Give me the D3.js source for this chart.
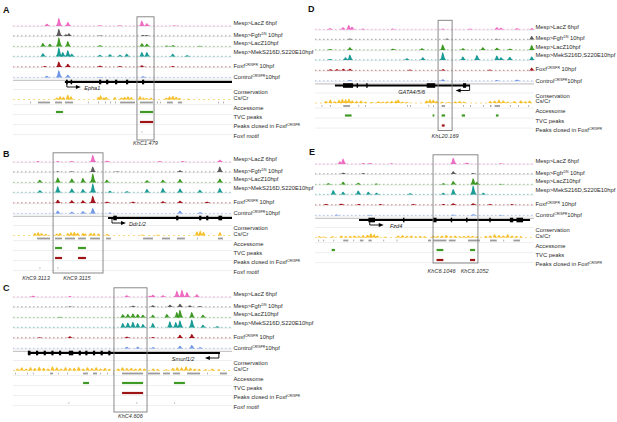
<!DOCTYPE html>
<html>
<head>
<meta charset="utf-8">
<script src="https://cdn.jsdelivr.net/npm/d3@7"></script>
<style>
  body { margin: 0; background: #fff; }
  svg { display: block; font-family: "Liberation Sans", Arial, sans-serif; }
</style>
</head>
<body>
<svg id="chart" width="617" height="422"></svg>
<script>
// ── Track names (segments; "sup" = superscript) ─────────────
const trackNames = [
  [["Mesp>LacZ 6hpf"]],
  [["Mesp>Fgfr"], ["DN", "sup"], [" 10hpf"]],
  [["Mesp>LacZ10hpf"]],
  [["Mesp>MekS216D,S220E10hpf"]],
  [["Foxf"], ["CRISPR", "sup"], [" 10hpf"]],
  [["Control"], ["CRISPR", "sup"], ["10hpf"]]
];
const trackColors = ["#ee6cc1", "#5b5b5b", "#3f9a25", "#1b9b95", "#a3141b", "#6f95e6"];

// Positions are in locus units 0..100, heights are relative (0..1)

// ── Panel A : Epha1 ─────────────────────────────────────────
const signalA = [
  [[15.5,.25],[21,.9],[25.1,.45],[39.7,.08],[48.9,.08],[58.9,.6],[61.2,.3],[74,.06]],
  [[21,.8],[24.2,.2],[25.6,.3],[39.7,.05],[59.4,.12],[61.2,.1]],
  [[13.7,.4],[16.9,.3],[21,1],[25.1,.6],[39.7,.15],[58.9,.35],[61.2,.3],[70.3,.1],[73,.15],[85.4,.08]],
  [[13.7,.35],[21,1],[22.8,.5],[25.1,.7],[26.9,.3],[39.7,.2],[44.3,.25],[48.9,.2],[52,.3],[58.9,.5],[61.2,.5],[73,.3],[79.5,.15]],
  [[14.6,.1],[21,.6],[25.1,.35],[39.7,.15],[48.9,.1],[58.9,.2],[73,.1]],
  [[15.5,.2],[21,.8],[25.1,.3],[39.7,.05],[59.4,.15]]
];
const consA = [[20,.3],[21.5,.5],[23,.4],[25,.7],[26.5,.45],[39,.4],[40,.6],[41.5,.3],[42.5,.4],[46.5,.35],
  [49.5,.3],[51,.4],[52.5,.45],[54,.35],[58,.5],[59.5,.3],[61,.25],[63,.3],[70,.3],[71.5,.45],[73,.55],[74.5,.4],[76,.25],[80,.12]];
const accA = [[7.8,7.8],[11.4,16.9],[19.2,22.4],[23.7,27.4],[34.2,34.2],[38.8,38.8],[42,42],[44.3,44.3],[46.6,46.6],
  [48.9,55.7],[58,63.9],[65.8,65.8],[67.1,67.1],[70.3,73],[75.3,77.2],[93.6,93.6],[95.9,95.9]];
const tvcA = [[19.6,22.8],[58,64]];
const closedA = [[58,64]];
const motifA = [58.9];
const geneA = ["Epha1", 23.7, 100, "+", 24.6, 32.5];
const exonsA = [[24.2,25],[26.3,27],[39.3,40.3],[42.5,43.5],[46.6,47.6],[51.6,52.6],[58.9,59.9]];
const boxA = [56.6, 64.4];
const regionsA = [["KhC1.479", 60.5]];

// ── Panel B : Ddr1/2 ────────────────────────────────────────
const signalB = [
  [[11.4,.1],[20.5,.1],[26.9,.1],[36.5,.8],[42.9,.15],[67.1,.1],[77.6,.1],[94.5,.25]],
  [[20.5,.08],[26.9,.08],[36.5,.6],[47.5,.06],[76.3,.2],[94.5,.6]],
  [[12.3,.3],[20.5,.55],[26.9,.45],[32,.5],[36.5,1],[42.9,.3],[61.2,.25],[68.5,.3],[76.3,.4],[94.5,.45]],
  [[12.3,.25],[20.5,.7],[26.9,.45],[32,.4],[36.5,1],[44.3,.2],[52,.15],[61.2,.4],[68.5,.5],[76.3,.45],[85.4,.3],[94.5,.5]],
  [[20.5,.35],[26.9,.3],[32,.3],[36.5,.8],[42.9,.15],[54.8,.15],[68.5,.2],[76.3,.25],[88.6,.15]],
  [[20.5,.3],[26.9,.2],[32,.25],[36.5,.6],[44.3,.1],[76.3,.3],[85.4,.15]]
];
const consB = [[10,.35],[11.5,.5],[13,.35],[15,.25],[20,.3],[21.5,.35],[25,.35],[26.5,.5],[28,.55],[29.5,.4],[32,.4],
  [33,.3],[35.5,.4],[37,.35],[39,.3],[43,.25],[59,.15],[66,.15],[84,.6],[85.5,.7],[87,.55],[94.5,.5]];
const accB = [[11,16.9],[19.2,22.4],[23.7,28.3],[29.7,33.3],[35.2,39.7],[42.5,44.7],[59.4,63.9],[68,71.7],[74.9,78.5],[84,84],[93.6,95.9]];
const tvcB = [[19.2,22.4],[29.7,33.3]];
const closedB = [[19.2,22.4],[29.7,33.3]];
const motifB = [12.3, 20.5];
const geneB = ["Ddr1/2", 43.4, 100, "+", 45.2, 53];
const exonsB = [[45.8,47.4],[74.5,75.5],[85,86],[88.2,89.2],[93.8,95.5]];
const boxB = [18.3, 41.1];
const regionsB = [["KhC9.3113", 10.5], ["KhC9.3115", 29.2]];

// ── Panel C : Smurf1/2 ──────────────────────────────────────
const signalC = [
  [[9.1,.15],[26,.1],[52,.2],[62.6,.15],[63.9,.25],[68.5,.2],[74.9,.7],[77.2,.8],[79.5,.55],[84,.3]],
  [[26,.05],[54.8,.15],[63.9,.2],[71.7,.25],[76.3,.35],[80.8,.2],[85.4,.1]],
  [[21.5,.08],[50.2,.35],[52.5,.4],[54.8,.45],[57,.4],[59.4,.3],[63.9,.3],[70.3,.4],[74.9,.6],[76.3,.85],[81.7,.6],[86.8,.3]],
  [[50.2,.5],[52.5,.55],[54.8,.65],[57,.5],[59.4,.4],[63.9,.5],[71.7,.7],[74.4,.6],[76.3,.8],[81.7,.9],[86.8,.3],[93.2,.15]],
  [[12.3,.08],[26,.2],[52,.15],[63.9,.1],[76.3,.35],[81.7,.45]],
  [[52,.2],[57,.2],[63.9,.15],[76.3,.3],[81.7,.4],[85.4,.15]]
];
const consC = [[2,.3],[4,.45],[6,.3],[8,.5],[10,.35],[12,.55],[14,.4],[16,.3],[18,.6],[20,.45],[22,.3],[24,.5],[26,.35],
  [28,.4],[30,.55],[32,.3],[34,.45],[36,.35],[38,.5],[40,.3],[42,.4],[44,.25],[48,.3],[50,.45],[52,.35],[54,.4],[56,.3],
  [58,.35],[60,.3],[64,.3],[66,.25],[70,.2],[73,.4],[75,.5],[77,.45],[79,.6],[81,.4],[83,.3],[85,.25],[88,.2],[91,.3],[94,.2]];
const accC = [[0.9,0.9],[6.4,6.4],[9.1,9.1],[16.9,18.3],[20.5,20.5],[24.7,24.7],[32,34.2],[36.5,38.4],[39.7,39.7],[42.9,42.9],
  [45.7,45.7],[49.8,59.4],[61.6,67.1],[68.5,71.7],[73,76.3],[79.5,85.4],[88.6,88.6],[94.5,97.7]];
const tvcC = [[32,34.7],[49.8,59.4],[73.5,78.5]];
const closedC = [[49.8,59.4]];
const motifC = [25.5, 56.5, 73.8];
const geneC = ["Smurf1/2", 6.8, 94.5, "-", 94, 72.5];
const exonsC = [[6.8,8],[10.5,11.5],[14,15],[17.5,18.5],[21,22],[25.5,27.5],[30,31],[33,34],[36.5,37.5],[40,41],[43.5,44.5]];
const boxC = [46.1, 61.2];
const regionsC = [["KhC4.606", 53.6]];

// ── Panel D : GATA4/5/6 ─────────────────────────────────────
const signalD = [
  [[6.8,.15],[12.8,.25],[15.5,.5],[17,.3],[21.9,.1],[35.6,.1],[58.4,.1],[70.8,.1],[83.1,.25],[85,.2],[92.2,.15],[99,.15]],
  [[16,.1],[60.3,.1],[83.1,.08],[99,.4]],
  [[6.8,.12],[16,.3],[35.6,.15],[48.9,.2],[58.4,.6],[67.6,.2],[76.7,.3],[83.1,.25],[89,.15],[99,.55]],
  [[6.8,.12],[14,.3],[16,.6],[42,.2],[49.3,.3],[58.4,.85],[67.6,.4],[74,.55],[83.1,.5],[85,.3],[89,.35],[99,.4]],
  [[7,.15],[10,.15],[13,.2],[16,.2],[43.4,.1],[58.4,.15],[79.9,.1],[99,.3]],
  [[16,.1],[58.4,.2],[83.1,.1],[92.2,.15]]
];
const consD = [[5,.3],[7,.5],[9,.25],[11,.45],[12.5,.6],[14,.55],[15.5,.65],[17,.4],[19,.3],[21,.35],[23,.2],[26,.15],
  [29,.25],[31,.2],[33,.25],[35,.3],[37,.35],[38,.5],[40,.2],[42,.15],[51,.4],[52.5,.55],[54,.5],[55.5,.3],[58,.2],[61,.15],
  [64,.25],[66,.3],[68,.2],[80,.3],[82,.35],[84,.5],[86,.35],[88,.2],[91,.3],[94,.4],[96,.25],[98,.35]];
const accD = [[3,3],[6.8,6.8],[12.9,16],[19.8,19.8],[22.8,22.8],[42,42],[43.4,43.4],[51.8,51.8],[54,54],[57.8,59.4],
  [67.6,67.6],[70.8,70.8],[76.7,76.7],[79.9,80.6],[82,84.5],[89,89],[92.8,92.8],[97.4,97.4]];
const tvcD = [[13.7,16.7],[53.7,54.5],[57.8,59.4],[67,68.5],[82.6,83.8]];
const closedD = [[57.9,59.2]];
const motifD = [];
const geneD = ["GATA4/5/6", 9.1, 70.8, "-", 70.6, 38];
const exonsD = [[12.8,17.4],[19,19.6],[23.4,24],[51,54.9],[67.6,69]];
const boxD = [56.2, 62.6];
const regionsD = [["KhL20.169", 59.4]];

// ── Panel E : Fzd4 ──────────────────────────────────────────
const signalE = [
  [[11.5,.3],[12.9,.6],[22.1,.1],[25.1,.1],[35,.08],[63.2,.7],[69.3,.15],[85,.08]],
  [[12.9,.15],[22.1,.1],[63.2,.3],[72.3,.1]],
  [[6.1,.15],[12.9,.3],[19.8,.2],[28,.12],[58.6,.15],[63.2,.4],[72.3,.7],[74,.3],[85,.08]],
  [[8.4,.5],[12.9,.3],[19.8,.45],[24.4,.3],[28.2,.2],[43.4,.15],[58.6,.2],[63.2,.6],[72.3,1],[76.9,.2]],
  [[5,.12],[12,.15],[20,.12],[30,.1],[45,.1],[58.6,.12],[63.2,.2],[72.3,.2],[80,.1],[90,.1]],
  [[10,.1],[25,.08],[63.2,.1],[72.3,.15],[85,.08]]
];
const consE = [[2,.2],[4,.15],[8,.2],[12,.3],[14,.2],[16,.25],[18,.3],[20,.25],[22,.35],[24,.4],[25.5,.6],[27,.5],[28.5,.3],
  [32,.15],[38,.3],[40,.35],[42,.25],[44,.3],[46,.2],[48,.25],[50,.2],[54,.3],[56,.25],[58,.3],[60,.35],[62,.25],[64,.3],
  [66,.2],[68,.25],[70,.3],[72,.25],[74,.2],[78,.25],[80,.3],[82,.5],[84,.35],[86,.3],[88,.45],[90,.3],[92,.25],[94,.2]];
const accE = [[1.5,1.5],[3.8,3.8],[8.4,8.4],[12.9,15.2],[17.5,17.5],[20.5,22.1],[24.4,25.9],[31.2,31.2],[37.3,37.3],
  [51.6,53],[54,60],[61.1,64.2],[69.9,75.3],[79.9,83],[86,86],[90.6,93.6]];
const tvcE = [[7.6,9.1],[55.5,58.6],[70.8,73.1]];
const closedE = [[55.5,58.6],[70.8,73.1]];
const motifE = [];
const geneE = ["Fzd4", 20.1, 98.2, "+", 25, 34.2];
const exonsE = [[24.4,27.4],[40.2,40.8],[53.9,55.5],[62,62.6],[69,69.6],[79.6,80.2],[89,90.5],[92,95]];
const boxE = [53.9, 74.4];
const regionsE = [["KhC6.1046", 57.8], ["KhC6.1052", 72.9]];

// ── Layout ──────────────────────────────────────────────────
const TRACK_W   = 219;
const SIG_MAX   = 9;     // px height of a full signal peak
const CONS_MAX  = 7;
const FONT      = 5.8;
const BASES     = [26, 36, 46.5, 56.5, 67, 77.5];
const LABEL_Y   = [25.3, 36.7, 45.3, 53.7, 67.7, 79.3];
const GENE_Y    = 82;
const CONS_Y    = 99.5;
const ACC_Y     = 102.5;
const TVC_Y     = 112;
const CLOSED_Y  = 122;
const MOTIF_Y   = 132;

const panels = [
  { id: "A", x: 13,  y: 0,   lx: 3,   ly: 13,  signal: signalA, cons: consA, acc: accA, tvc: tvcA, closed: closedA,
    motif: motifA, gene: geneA, exons: exonsA, box: boxA, regions: regionsA, hasMotif: true, boxBottom: 140, regY: 145 },
  { id: "B", x: 13,  y: 136, lx: 3,   ly: 157, signal: signalB, cons: consB, acc: accB, tvc: tvcB, closed: closedB,
    motif: motifB, gene: geneB, exons: exonsB, box: boxB, regions: regionsB, hasMotif: true, boxBottom: 137, regY: 143.5 },
  { id: "C", x: 13,  y: 271, lx: 3,   ly: 291, signal: signalC, cons: consC, acc: accC, tvc: tvcC, closed: closedC,
    motif: motifC, gene: geneC, exons: exonsC, box: boxC, regions: regionsC, hasMotif: true, boxBottom: 141, regY: 147 },
  { id: "D", x: 315, y: 3.5, lx: 308, ly: 12,  signal: signalD, cons: consD, acc: accD, tvc: tvcD, closed: closedD,
    motif: motifD, gene: geneD, exons: exonsD, box: boxD, regions: regionsD, hasMotif: false, boxBottom: 127, regY: 134 },
  { id: "E", x: 315, y: 138, lx: 309, ly: 155, signal: signalE, cons: consE, acc: accE, tvc: tvcE, closed: closedE,
    motif: motifE, gene: geneE, exons: exonsE, box: boxE, regions: regionsE, hasMotif: false, boxBottom: 125, regY: 135 }
];

const svg = d3.select("#chart");

// write a label made of plain / superscript segments
function segLabel(g, segs, x, y, size) {
  const t = g.append("text").attr("x", x).attr("y", y)
    .attr("font-size", size).attr("fill", "#2a2a2a");
  segs.forEach(s => {
    const ts = t.append("tspan").text(s[0]);
    if (s[1] === "sup") ts.attr("font-size", size * 0.6).attr("baseline-shift", "super");
  });
  return t;
}

function drawPanel(P) {
  const g = svg.append("g").attr("transform", `translate(0,${P.y})`);
  const x = d3.scaleLinear().domain([0, 100]).range([P.x, P.x + TRACK_W]);
  const labelX = P.x + TRACK_W + 1.5;

  // panel letter
  svg.append("text").attr("x", P.lx).attr("y", P.ly)
    .attr("font-size", 9).attr("font-weight", "bold").attr("fill", "#111").text(P.id);

  // row separators
  const seps = [80.3, 89.5, 104.6, 114.6, 124.6].concat(P.hasMotif ? [134.6] : []);
  g.selectAll("line.sep").data(seps).enter().append("line")
    .attr("x1", P.x).attr("x2", P.x + TRACK_W)
    .attr("y1", d => d).attr("y2", d => d)
    .attr("stroke", d => d === 80.3 ? "#c8c8c8" : "#e2e2e2")
    .attr("stroke-width", d => d === 80.3 ? 1.2 : 0.6);

  // ── signal tracks
  const hS = d3.scaleLinear().domain([0, 1]).range([0, SIG_MAX]);
  P.signal.forEach((peaks, i) => {
    const base = BASES[i];
    const col = trackColors[i];
    g.append("line").attr("x1", P.x).attr("x2", P.x + TRACK_W)
      .attr("y1", base + 0.6).attr("y2", base + 0.6)
      .attr("stroke", "#dedede").attr("stroke-width", 0.6);
    g.append("line").attr("x1", P.x).attr("x2", P.x + TRACK_W)
      .attr("y1", base - 0.2).attr("y2", base - 0.2)
      .attr("stroke", col).attr("stroke-opacity", 0.6)
      .attr("stroke-width", 0.9).attr("stroke-dasharray", "1.5,2.5");
    const area = d3.area()
      .x(d => x(d[0])).y0(base).y1(d => base - hS(d[1]))
      .curve(d3.curveMonotoneX);
    g.append("g").selectAll("path").data(peaks).enter().append("path")
      .attr("d", d => {
        const w = 1.6;
        return area([[d[0] - w, 0], [d[0] - w * 0.5, d[1] * 0.3], [d[0] - w * 0.12, d[1]],
                     [d[0] + w * 0.15, d[1] * 0.85], [d[0] + w * 0.5, d[1] * 0.3], [d[0] + w, 0]]);
      })
      .attr("fill", col);
    segLabel(g, trackNames[i], labelX, LABEL_Y[i], FONT);
  });

  // ── gene model
  const [gName, gStart, gEnd, strand, tss, gLabel] = P.gene;
  g.append("line").attr("x1", x(gStart)).attr("x2", x(gEnd))
    .attr("y1", GENE_Y).attr("y2", GENE_Y)
    .attr("stroke", "#000").attr("stroke-width", 1.8);
  g.selectAll("rect.exon").data(P.exons).enter().append("rect")
    .attr("x", d => x(d[0])).attr("width", d => Math.max(1.4, x(d[1]) - x(d[0])))
    .attr("y", GENE_Y - 2.3).attr("height", 4.6).attr("fill", "#000");
  const dir = strand === "+" ? 1 : -1;
  const tx = x(tss);
  g.append("path")
    .attr("d", `M${tx},${GENE_Y} V${GENE_Y + 5} H${tx + dir * 10}`)
    .attr("fill", "none").attr("stroke", "#000").attr("stroke-width", 0.9);
  g.append("path")
    .attr("d", `M${tx + dir * 14},${GENE_Y + 5} L${tx + dir * 9},${GENE_Y + 3} L${tx + dir * 9},${GENE_Y + 7} Z`)
    .attr("fill", "#000");
  g.append("text").attr("x", x(gLabel)).attr("y", GENE_Y + 8)
    .attr("font-size", 5.6).attr("font-style", "italic").attr("fill", "#222").text(gName);

  // ── conservation
  const hC = d3.scaleLinear().domain([0, 1]).range([0, CONS_MAX]);
  const carea = d3.area().x(d => x(d[0])).y0(CONS_Y).y1(d => CONS_Y - hC(d[1])).curve(d3.curveMonotoneX);
  g.append("g").selectAll("path").data(P.cons).enter().append("path")
    .attr("d", d => {
      const w = 0.95;
      return carea([[d[0] - w, 0], [d[0] - w * 0.5, d[1] * 0.6], [d[0], d[1]], [d[0] + w * 0.5, d[1] * 0.6], [d[0] + w, 0]]);
    })
    .attr("fill", "#f5c02c");
  g.append("line").attr("x1", P.x).attr("x2", P.x + TRACK_W).attr("y1", CONS_Y).attr("y2", CONS_Y)
    .attr("stroke", "#f5c02c").attr("stroke-width", 0.6).attr("stroke-dasharray", "2,3");
  g.append("text").attr("x", labelX).attr("y", 94).attr("font-size", FONT).attr("fill", "#2a2a2a").text("Conservation");
  g.append("text").attr("x", labelX).attr("y", 99.6).attr("font-size", FONT).attr("fill", "#2a2a2a").text("Cs/Cr");

  // ── interval rows
  function bars(data, y, col, hgt) {
    g.append("g").selectAll("rect").data(data).enter().append("rect")
      .attr("x", d => x(d[0])).attr("width", d => Math.max(0.8, x(d[1]) - x(d[0])))
      .attr("y", y - hgt / 2).attr("height", hgt).attr("fill", col);
  }
  bars(P.acc, ACC_Y, "#9c9c9c", 1.8);
  bars(P.tvc, TVC_Y, "#3f9a25", 2.2);
  bars(P.closed, CLOSED_Y, "#9e1313", 2.2);
  g.append("text").attr("x", labelX).attr("y", 109.5).attr("font-size", FONT).attr("fill", "#2a2a2a").text("Accessome");
  g.append("text").attr("x", labelX).attr("y", 119).attr("font-size", FONT).attr("fill", "#2a2a2a").text("TVC peaks");
  segLabel(g, [["Peaks closed in Foxf"], ["CRISPR", "sup"]], labelX, 128.3, FONT);
  if (P.hasMotif) {
    g.append("g").selectAll("line").data(P.motif).enter().append("line")
      .attr("x1", d => x(d)).attr("x2", d => x(d))
      .attr("y1", MOTIF_Y - 0.9).attr("y2", MOTIF_Y + 0.9)
      .attr("stroke", "#999").attr("stroke-width", 0.6);
    g.append("text").attr("x", labelX).attr("y", 137.8).attr("font-size", FONT).attr("fill", "#2a2a2a").text("Foxf motif");
  }

  // ── highlight box + region names
  g.append("rect").attr("x", x(P.box[0])).attr("y", 16.8)
    .attr("width", x(P.box[1]) - x(P.box[0])).attr("height", P.boxBottom - 16.8)
    .attr("fill", "none").attr("stroke", "#7d7d7d").attr("stroke-width", 0.9);
  g.selectAll("text.reg").data(P.regions).enter().append("text")
    .attr("x", d => x(d[1])).attr("y", P.regY)
    .attr("text-anchor", "middle").attr("font-size", 5.6).attr("font-style", "italic")
    .attr("fill", "#333").text(d => d[0]);
}

panels.forEach(drawPanel);
</script>
</body>
</html>
